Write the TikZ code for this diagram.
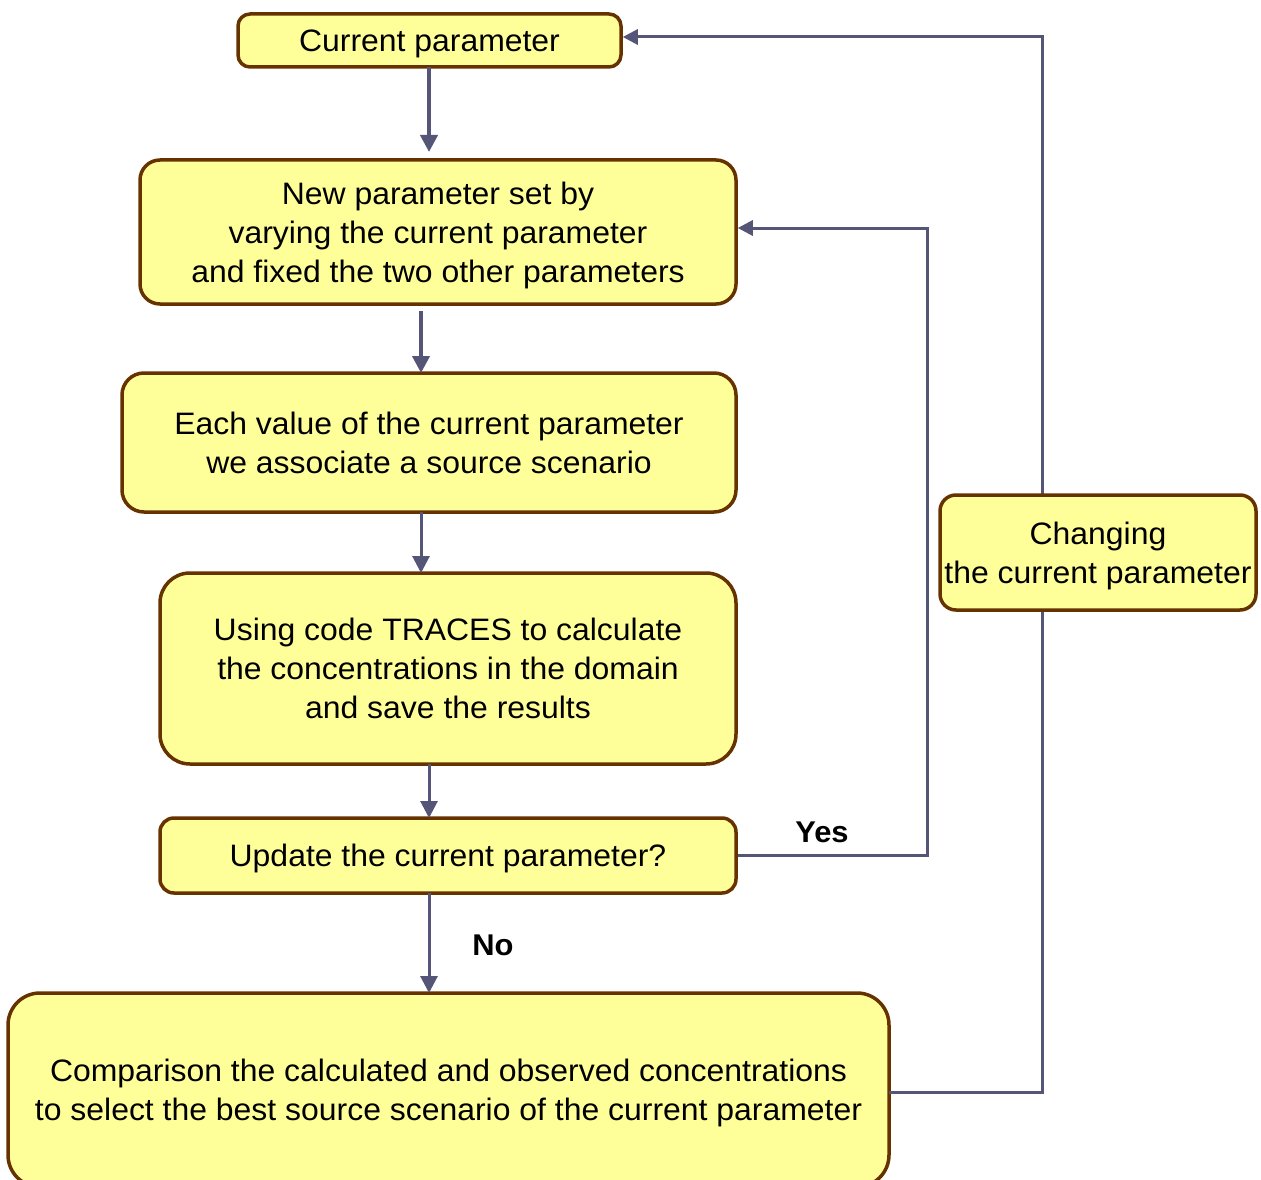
\documentclass[tikz,border=0pt]{standalone}
\usepackage{fontspec}
\setmainfont[FakeStretch=1.03]{Liberation Sans}
\usetikzlibrary{arrows.meta}
\definecolor{boxfill}{HTML}{FFFF99}
\definecolor{boxline}{HTML}{663300}
\definecolor{arrowcol}{HTML}{555577}
\begin{document}
\begin{tikzpicture}[x=1pt,y=-1pt,
  box/.style={draw=boxline,fill=boxfill,line width=3.5pt,rounded corners=#1,
    align=center,inner sep=0pt,text depth=0pt,font=\fontsize{31}{39}\selectfont},
  box/.default=14pt,
  conn/.style={draw=arrowcol,line width=4pt,-{Triangle[length=17pt,width=17pt]}},
  loop/.style={draw=arrowcol,line width=3pt},
  lbl/.style={font=\fontsize{30}{34}\selectfont\bfseries,inner sep=0pt}]
\useasboundingbox (0,0) rectangle (1261,1180);
\node[box=12pt,minimum width=383pt,minimum height=53pt] (b1) at (429.5,40.5) {Current parameter};
\node[box=20pt,minimum width=596pt,minimum height=144pt] (b2) at (438,232) {New parameter set by\\varying the current parameter\\and fixed the two other parameters};
\node[box=22pt,minimum width=614pt,minimum height=139pt] (b3) at (429,442.5) {Each value of the current parameter\\we associate a source scenario};
\node[box=30pt,minimum width=576pt,minimum height=191pt] (b4) at (448,668.5) {Using code TRACES to calculate\\the concentrations in the domain\\and save the results};
\node[box=14pt,minimum width=576pt,minimum height=75pt] (b5) at (448,855.5) {Update the current parameter?};
\node[box=32pt,minimum width=881pt,minimum height=194pt] (b6) at (448.5,1090) {Comparison the calculated and observed concentrations\\to select the best source scenario of the current parameter};
\coordinate (r6) at (889,1092);
\coordinate (t7) at (1042,495);
\coordinate (s7) at (1042,610);
\draw[loop] (r6) -| (s7);
\draw[loop,-{Triangle[length=15pt,width=15pt]}] (t7) |- ([yshift=3.5pt]b1.east);
\draw[loop,-{Triangle[length=15pt,width=15pt]}] (b5.east) -- (927,855.5) |- ([yshift=4pt]b2.east);
\node[box=16pt,minimum width=316pt,minimum height=115pt] (b7) at (1098,552.5) {Changing\\the current parameter};
\coordinate (a1s) at (429,67);
\coordinate (a1e) at (429,152);
\draw[conn] (a1s) -- (a1e);
\coordinate (a2s) at (421,311);
\coordinate (a2e) at (421,373);
\draw[conn] (a2s) -- (a2e);
\coordinate (a3s) at (421,512);
\coordinate (a3e) at (421,573);
\draw[conn,line width=3pt] (a3s) -- (a3e);
\coordinate (a4s) at (429,764);
\coordinate (a4e) at (429,818);
\draw[conn,line width=3pt] (a4s) -- (a4e);
\coordinate (a5s) at (429,893);
\coordinate (a5e) at (429,993);
\draw[conn,line width=3pt] (a5s) -- (a5e);
\node[lbl] (yes) at (822,832) {Yes};
\node[lbl] (no) at (493,945) {No};
\end{tikzpicture}
\end{document}
